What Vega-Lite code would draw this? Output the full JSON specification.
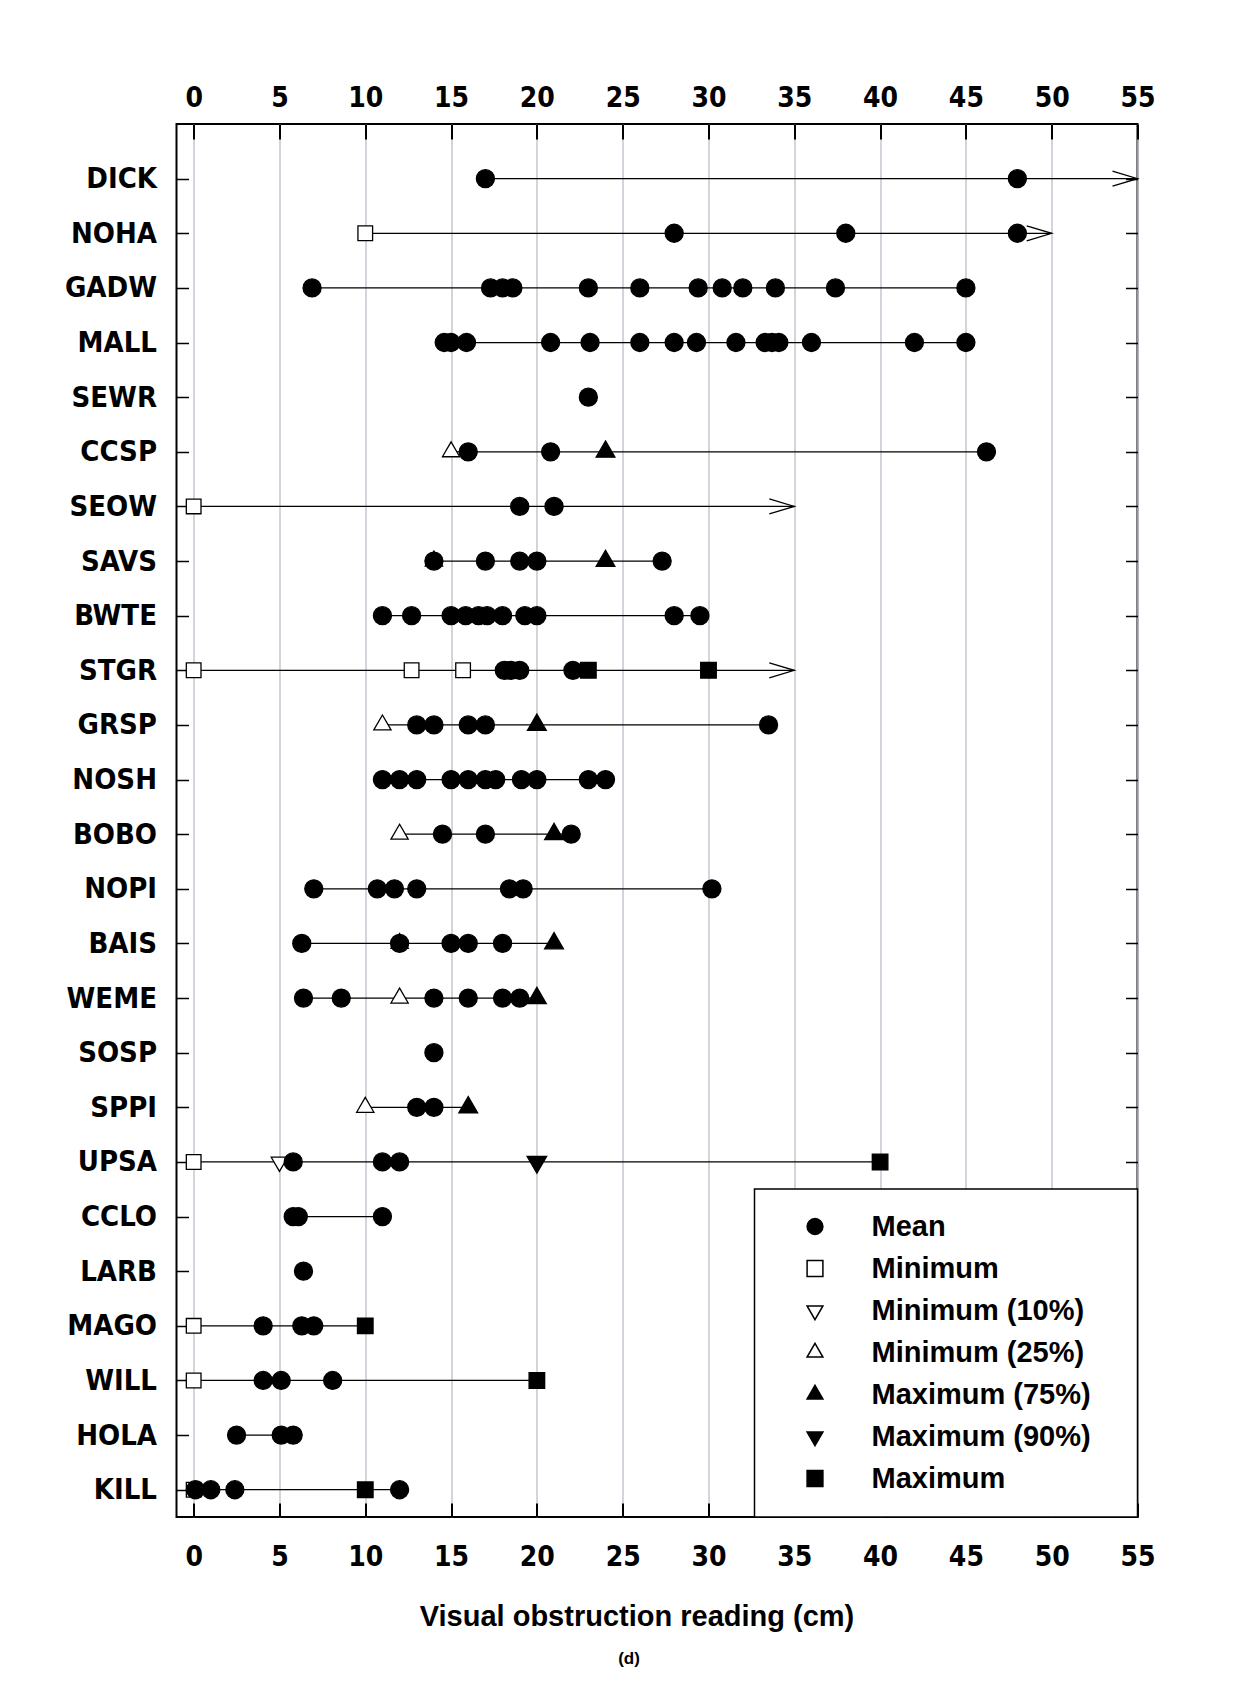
{
  "$schema": "https://vega.github.io/schema/vega-lite/v6.json",
  "width": 961,
  "height": 1393,
  "autosize": {"type": "none"},
  "padding": {"left": 176.5, "top": 124, "right": 114.5, "bottom": 170},
  "background": "white",
  "config": {
    "view": {"stroke": "black", "strokeWidth": 2},
    "axis": {"labelColor": "black", "titleColor": "black"},
    "legend": {"strokeWidth": 1.5}
  },
  "title": {"text": "(d)", "orient": "bottom", "anchor": "middle", "font": "Liberation Sans", "fontSize": 17, "fontWeight": "bold", "color": "black", "offset": 20, "dx": -28},
  "datasets": {
    "lines": [
      {"sp": "DICK", "start": 17, "end": 55},
      {"sp": "NOHA", "start": 10, "end": 50},
      {"sp": "GADW", "start": 6.9, "end": 45},
      {"sp": "MALL", "start": 14.6, "end": 45},
      {"sp": "CCSP", "start": 15, "end": 46.2},
      {"sp": "SEOW", "start": 0, "end": 35},
      {"sp": "SAVS", "start": 14, "end": 27.3},
      {"sp": "BWTE", "start": 11, "end": 29.5},
      {"sp": "STGR", "start": 0, "end": 35},
      {"sp": "GRSP", "start": 11, "end": 33.5},
      {"sp": "NOSH", "start": 11, "end": 24},
      {"sp": "BOBO", "start": 12, "end": 22},
      {"sp": "NOPI", "start": 7, "end": 30.2},
      {"sp": "BAIS", "start": 6.3, "end": 21},
      {"sp": "WEME", "start": 6.4, "end": 20},
      {"sp": "SPPI", "start": 10, "end": 16},
      {"sp": "UPSA", "start": 0, "end": 40},
      {"sp": "CCLO", "start": 5.8, "end": 11},
      {"sp": "MAGO", "start": 0, "end": 10},
      {"sp": "WILL", "start": 0, "end": 20},
      {"sp": "HOLA", "start": 2.5, "end": 5.8},
      {"sp": "KILL", "start": 0, "end": 12}
    ],
    "arrows": [
      {"sp": "DICK", "end": 55},
      {"sp": "NOHA", "end": 50},
      {"sp": "SEOW", "end": 35},
      {"sp": "STGR", "end": 35}
    ],
    "pts": [
      {"sp": "NOHA", "v": 10, "t": "Minimum"},
      {"sp": "CCSP", "v": 15, "t": "Minimum (25%)"},
      {"sp": "CCSP", "v": 24, "t": "Maximum (75%)"},
      {"sp": "SEOW", "v": 0, "t": "Minimum"},
      {"sp": "SAVS", "v": 14, "t": "Minimum (25%)"},
      {"sp": "SAVS", "v": 24, "t": "Maximum (75%)"},
      {"sp": "STGR", "v": 0, "t": "Minimum"},
      {"sp": "STGR", "v": 12.7, "t": "Minimum"},
      {"sp": "STGR", "v": 15.7, "t": "Minimum"},
      {"sp": "STGR", "v": 23, "t": "Maximum"},
      {"sp": "STGR", "v": 30, "t": "Maximum"},
      {"sp": "GRSP", "v": 11, "t": "Minimum (25%)"},
      {"sp": "GRSP", "v": 20, "t": "Maximum (75%)"},
      {"sp": "BOBO", "v": 12, "t": "Minimum (25%)"},
      {"sp": "BOBO", "v": 21, "t": "Maximum (75%)"},
      {"sp": "BAIS", "v": 12, "t": "Minimum (25%)"},
      {"sp": "BAIS", "v": 21, "t": "Maximum (75%)"},
      {"sp": "WEME", "v": 12, "t": "Minimum (25%)"},
      {"sp": "WEME", "v": 20, "t": "Maximum (75%)"},
      {"sp": "SPPI", "v": 10, "t": "Minimum (25%)"},
      {"sp": "SPPI", "v": 16, "t": "Maximum (75%)"},
      {"sp": "UPSA", "v": 0, "t": "Minimum"},
      {"sp": "UPSA", "v": 5, "t": "Minimum (10%)"},
      {"sp": "UPSA", "v": 20, "t": "Maximum (90%)"},
      {"sp": "UPSA", "v": 40, "t": "Maximum"},
      {"sp": "MAGO", "v": 0, "t": "Minimum"},
      {"sp": "MAGO", "v": 10, "t": "Maximum"},
      {"sp": "WILL", "v": 0, "t": "Minimum"},
      {"sp": "WILL", "v": 20, "t": "Maximum"},
      {"sp": "KILL", "v": 0, "t": "Minimum"},
      {"sp": "KILL", "v": 10, "t": "Maximum"},
      {"sp": "DICK", "v": 17, "t": "Mean"},
      {"sp": "DICK", "v": 48, "t": "Mean"},
      {"sp": "NOHA", "v": 28, "t": "Mean"},
      {"sp": "NOHA", "v": 38, "t": "Mean"},
      {"sp": "NOHA", "v": 48, "t": "Mean"},
      {"sp": "GADW", "v": 6.9, "t": "Mean"},
      {"sp": "GADW", "v": 17.3, "t": "Mean"},
      {"sp": "GADW", "v": 18.0, "t": "Mean"},
      {"sp": "GADW", "v": 18.6, "t": "Mean"},
      {"sp": "GADW", "v": 23.0, "t": "Mean"},
      {"sp": "GADW", "v": 26.0, "t": "Mean"},
      {"sp": "GADW", "v": 29.4, "t": "Mean"},
      {"sp": "GADW", "v": 30.8, "t": "Mean"},
      {"sp": "GADW", "v": 32.0, "t": "Mean"},
      {"sp": "GADW", "v": 33.9, "t": "Mean"},
      {"sp": "GADW", "v": 37.4, "t": "Mean"},
      {"sp": "GADW", "v": 45.0, "t": "Mean"},
      {"sp": "MALL", "v": 14.6, "t": "Mean"},
      {"sp": "MALL", "v": 15.0, "t": "Mean"},
      {"sp": "MALL", "v": 15.9, "t": "Mean"},
      {"sp": "MALL", "v": 20.8, "t": "Mean"},
      {"sp": "MALL", "v": 23.1, "t": "Mean"},
      {"sp": "MALL", "v": 26.0, "t": "Mean"},
      {"sp": "MALL", "v": 28.0, "t": "Mean"},
      {"sp": "MALL", "v": 29.3, "t": "Mean"},
      {"sp": "MALL", "v": 31.6, "t": "Mean"},
      {"sp": "MALL", "v": 33.3, "t": "Mean"},
      {"sp": "MALL", "v": 33.7, "t": "Mean"},
      {"sp": "MALL", "v": 34.1, "t": "Mean"},
      {"sp": "MALL", "v": 36.0, "t": "Mean"},
      {"sp": "MALL", "v": 42.0, "t": "Mean"},
      {"sp": "MALL", "v": 45.0, "t": "Mean"},
      {"sp": "SEWR", "v": 23.0, "t": "Mean"},
      {"sp": "CCSP", "v": 16, "t": "Mean"},
      {"sp": "CCSP", "v": 20.8, "t": "Mean"},
      {"sp": "CCSP", "v": 46.2, "t": "Mean"},
      {"sp": "SEOW", "v": 19, "t": "Mean"},
      {"sp": "SEOW", "v": 21, "t": "Mean"},
      {"sp": "SAVS", "v": 14, "t": "Mean"},
      {"sp": "SAVS", "v": 17, "t": "Mean"},
      {"sp": "SAVS", "v": 19, "t": "Mean"},
      {"sp": "SAVS", "v": 20, "t": "Mean"},
      {"sp": "SAVS", "v": 27.3, "t": "Mean"},
      {"sp": "BWTE", "v": 11, "t": "Mean"},
      {"sp": "BWTE", "v": 12.7, "t": "Mean"},
      {"sp": "BWTE", "v": 15, "t": "Mean"},
      {"sp": "BWTE", "v": 15.85, "t": "Mean"},
      {"sp": "BWTE", "v": 16.6, "t": "Mean"},
      {"sp": "BWTE", "v": 17.1, "t": "Mean"},
      {"sp": "BWTE", "v": 18, "t": "Mean"},
      {"sp": "BWTE", "v": 19.3, "t": "Mean"},
      {"sp": "BWTE", "v": 20, "t": "Mean"},
      {"sp": "BWTE", "v": 28, "t": "Mean"},
      {"sp": "BWTE", "v": 29.5, "t": "Mean"},
      {"sp": "STGR", "v": 18.1, "t": "Mean"},
      {"sp": "STGR", "v": 18.5, "t": "Mean"},
      {"sp": "STGR", "v": 19.0, "t": "Mean"},
      {"sp": "STGR", "v": 22.1, "t": "Mean"},
      {"sp": "GRSP", "v": 13, "t": "Mean"},
      {"sp": "GRSP", "v": 14, "t": "Mean"},
      {"sp": "GRSP", "v": 16, "t": "Mean"},
      {"sp": "GRSP", "v": 17, "t": "Mean"},
      {"sp": "GRSP", "v": 33.5, "t": "Mean"},
      {"sp": "NOSH", "v": 11, "t": "Mean"},
      {"sp": "NOSH", "v": 12, "t": "Mean"},
      {"sp": "NOSH", "v": 13, "t": "Mean"},
      {"sp": "NOSH", "v": 15, "t": "Mean"},
      {"sp": "NOSH", "v": 16, "t": "Mean"},
      {"sp": "NOSH", "v": 17, "t": "Mean"},
      {"sp": "NOSH", "v": 17.6, "t": "Mean"},
      {"sp": "NOSH", "v": 19.1, "t": "Mean"},
      {"sp": "NOSH", "v": 20, "t": "Mean"},
      {"sp": "NOSH", "v": 23, "t": "Mean"},
      {"sp": "NOSH", "v": 24, "t": "Mean"},
      {"sp": "BOBO", "v": 14.5, "t": "Mean"},
      {"sp": "BOBO", "v": 17, "t": "Mean"},
      {"sp": "BOBO", "v": 22, "t": "Mean"},
      {"sp": "NOPI", "v": 7, "t": "Mean"},
      {"sp": "NOPI", "v": 10.7, "t": "Mean"},
      {"sp": "NOPI", "v": 11.7, "t": "Mean"},
      {"sp": "NOPI", "v": 13, "t": "Mean"},
      {"sp": "NOPI", "v": 18.4, "t": "Mean"},
      {"sp": "NOPI", "v": 19.2, "t": "Mean"},
      {"sp": "NOPI", "v": 30.2, "t": "Mean"},
      {"sp": "BAIS", "v": 6.3, "t": "Mean"},
      {"sp": "BAIS", "v": 12, "t": "Mean"},
      {"sp": "BAIS", "v": 15, "t": "Mean"},
      {"sp": "BAIS", "v": 16, "t": "Mean"},
      {"sp": "BAIS", "v": 18, "t": "Mean"},
      {"sp": "WEME", "v": 6.4, "t": "Mean"},
      {"sp": "WEME", "v": 8.6, "t": "Mean"},
      {"sp": "WEME", "v": 14, "t": "Mean"},
      {"sp": "WEME", "v": 16, "t": "Mean"},
      {"sp": "WEME", "v": 18, "t": "Mean"},
      {"sp": "WEME", "v": 19, "t": "Mean"},
      {"sp": "SOSP", "v": 14, "t": "Mean"},
      {"sp": "SPPI", "v": 13, "t": "Mean"},
      {"sp": "SPPI", "v": 14, "t": "Mean"},
      {"sp": "UPSA", "v": 5.8, "t": "Mean"},
      {"sp": "UPSA", "v": 11, "t": "Mean"},
      {"sp": "UPSA", "v": 12, "t": "Mean"},
      {"sp": "CCLO", "v": 5.8, "t": "Mean"},
      {"sp": "CCLO", "v": 6.1, "t": "Mean"},
      {"sp": "CCLO", "v": 11, "t": "Mean"},
      {"sp": "LARB", "v": 6.4, "t": "Mean"},
      {"sp": "MAGO", "v": 4.05, "t": "Mean"},
      {"sp": "MAGO", "v": 6.3, "t": "Mean"},
      {"sp": "MAGO", "v": 7.0, "t": "Mean"},
      {"sp": "WILL", "v": 4.05, "t": "Mean"},
      {"sp": "WILL", "v": 5.1, "t": "Mean"},
      {"sp": "WILL", "v": 8.1, "t": "Mean"},
      {"sp": "HOLA", "v": 2.5, "t": "Mean"},
      {"sp": "HOLA", "v": 5.1, "t": "Mean"},
      {"sp": "HOLA", "v": 5.8, "t": "Mean"},
      {"sp": "KILL", "v": 0.1, "t": "Mean"},
      {"sp": "KILL", "v": 1.0, "t": "Mean"},
      {"sp": "KILL", "v": 2.4, "t": "Mean"},
      {"sp": "KILL", "v": 12.0, "t": "Mean"}
    ]
  },
  "resolve": {"axis": {"x": "independent", "y": "independent"}},
  "layer": [
    {
      "data": {"name": "lines"},
      "mark": {"type": "rule", "color": "black", "strokeWidth": 1.3},
      "encoding": {
        "x": {"field": "start", "type": "quantitative",
          "scale": {"domain": [-1, 55], "nice": false, "zero": false},
          "axis": {"orient": "bottom", "values": [0,5,10,15,20,25,30,35,40,45,50,55], "grid": true, "gridColor": "#c3c7cf", "gridWidth": 1.5, "domain": false,
            "tickSize": -14, "tickWidth": 2, "tickColor": "black",
            "labelFont": "DejaVu Sans Condensed", "labelFontSize": 28, "labelFontWeight": "bold", "labelPadding": 40, "labelFlush": false, "labelOverlap": false,
            "title": "Visual obstruction reading (cm)", "titleFont": "Liberation Sans", "titleFontSize": 29, "titleFontWeight": "bold", "titlePadding": 31, "titleX": 460}},
        "x2": {"field": "end"},
        "y": {"field": "sp", "type": "nominal",
          "scale": {"type": "point", "domain": ["DICK","NOHA","GADW","MALL","SEWR","CCSP","SEOW","SAVS","BWTE","STGR","GRSP","NOSH","BOBO","NOPI","BAIS","WEME","SOSP","SPPI","UPSA","CCLO","LARB","MAGO","WILL","HOLA","KILL"], "padding": 0.75, "align": 0.667},
          "axis": {"orient": "left", "domain": false, "grid": false, "tickSize": -12, "tickWidth": 1.5, "tickColor": "black",
            "labelFont": "DejaVu Sans Condensed", "labelFontSize": 29, "labelFontWeight": "bold", "labelPadding": 32, "title": null}}
      }
    },
    {
      "data": {"name": "arrows"},
      "mark": {"type": "point", "shape": "M-2,-0.6L0,0L-2,0.6", "size": 625, "filled": false, "stroke": "black", "strokeWidth": 1.3, "opacity": 1},
      "encoding": {
        "x": {"field": "end", "type": "quantitative",
          "axis": {"orient": "top", "values": [0,5,10,15,20,25,30,35,40,45,50,55], "grid": false, "domain": false,
            "tickSize": -15, "tickWidth": 2, "tickColor": "black",
            "labelFont": "DejaVu Sans Condensed", "labelFontSize": 28, "labelFontWeight": "bold", "labelPadding": 27, "labelFlush": false, "labelOverlap": false, "title": null}},
        "y": {"field": "sp", "type": "nominal",
          "axis": {"orient": "right", "labels": false, "domain": false, "grid": false, "tickSize": -12, "tickWidth": 1.5, "tickColor": "black", "title": null}}
      }
    },
    {
      "data": {"name": "pts"},
      "mark": {"type": "point", "filled": true, "strokeWidth": 1.3, "opacity": 1},
      "encoding": {
        "x": {"field": "v", "type": "quantitative", "axis": null},
        "y": {"field": "sp", "type": "nominal", "axis": null},
        "shape": {"field": "t", "type": "nominal",
          "scale": {"domain": ["Mean","Minimum","Minimum (10%)","Minimum (25%)","Maximum (75%)","Maximum (90%)","Maximum"],
            "range": ["circle","square","M0,1.155L1,-0.577L-1,-0.577Z","M0,-1.155L1,0.577L-1,0.577Z","M0,-1.155L1,0.577L-1,0.577Z","M0,1.155L1,-0.577L-1,-0.577Z","square"]},
          "legend": {"orient": "bottom-right", "offset": 0, "title": " ", "titleOrient": "right", "titlePadding": 24, "titleFontSize": 2, "padding": 23, "fillColor": "white", "strokeColor": "black",
            "symbolSize": 250, "symbolStrokeColor": "black", "symbolStrokeWidth": 1.5, "symbolOffset": 23, "labelOffset": 42,
            "labelFont": "Liberation Sans", "labelFontSize": 29, "labelFontWeight": "bold", "labelColor": "black", "rowPadding": 12, "labelLimit": 500}},
        "fill": {"field": "t", "type": "nominal",
          "scale": {"domain": ["Mean","Minimum","Minimum (10%)","Minimum (25%)","Maximum (75%)","Maximum (90%)","Maximum"],
            "range": ["black","white","white","white","black","black","black"]},
          "legend": {"orient": "bottom-right", "offset": 0, "title": " ", "titleOrient": "right", "titlePadding": 24, "titleFontSize": 2, "padding": 23, "fillColor": "white", "strokeColor": "black",
            "symbolSize": 250, "symbolStrokeColor": "black", "symbolStrokeWidth": 1.5, "symbolOffset": 23, "labelOffset": 42,
            "labelFont": "Liberation Sans", "labelFontSize": 29, "labelFontWeight": "bold", "labelColor": "black", "rowPadding": 12, "labelLimit": 500}},
        "stroke": {"field": "t", "type": "nominal",
          "scale": {"domain": ["Mean","Minimum","Minimum (10%)","Minimum (25%)","Maximum (75%)","Maximum (90%)","Maximum"],
            "range": ["black","black","black","black","black","black","black"]},
          "legend": {"orient": "bottom-right", "offset": 0, "title": " ", "titleOrient": "right", "titlePadding": 24, "titleFontSize": 2, "padding": 23, "fillColor": "white", "strokeColor": "black",
            "symbolSize": 250, "symbolStrokeColor": "black", "symbolStrokeWidth": 1.5, "symbolOffset": 23, "labelOffset": 42,
            "labelFont": "Liberation Sans", "labelFontSize": 29, "labelFontWeight": "bold", "labelColor": "black", "rowPadding": 12, "labelLimit": 500}},
        "size": {"field": "t", "type": "nominal",
          "scale": {"type": "point", "padding": 0, "domain": ["Minimum","Maximum","Minimum (10%)","Minimum (25%)","Mean","Maximum (75%)","Maximum (90%)"],
            "range": [215, 380]},
          "legend": null}
      }
    }
  ]
}
